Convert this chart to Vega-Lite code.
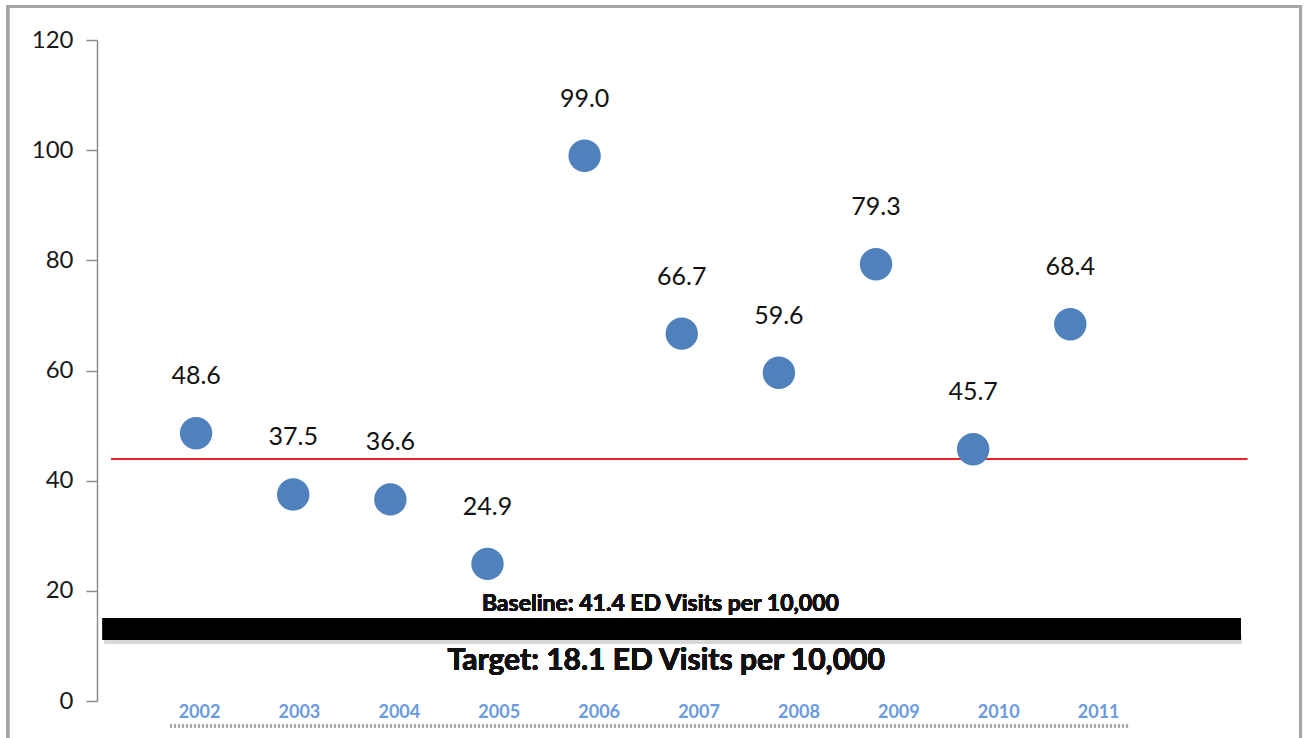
{
  "$schema": "https://vega.github.io/schema/vega-lite/v6.json",
  "width": 1153,
  "height": 661,
  "autosize": {"type": "none"},
  "padding": {"left": 97, "top": 40, "right": 54, "bottom": 37},
  "background": "white",
  "config": {"view": {"stroke": null}, "font": "Lato"},
  "data": {
    "values": [
      {"year": 2002, "visits": 48.6},
      {"year": 2003, "visits": 37.5},
      {"year": 2004, "visits": 36.6},
      {"year": 2005, "visits": 24.9},
      {"year": 2006, "visits": 99.0},
      {"year": 2007, "visits": 66.7},
      {"year": 2008, "visits": 59.6},
      {"year": 2009, "visits": 79.3},
      {"year": 2010, "visits": 45.7},
      {"year": 2011, "visits": 68.4}
    ]
  },
  "layer": [
    {
      "layer": [
        {
          "mark": {"type": "rect", "fill": null, "stroke": "#a6a6a6", "strokeWidth": 3},
          "encoding": {
            "x": {"datum": 2000.06, "type": "quantitative", "scale": {"domain": [2000.98, 2012.85]}, "axis": null},
            "x2": {"datum": 2013.37},
            "y": {"datum": 126.1, "type": "quantitative", "scale": {"domain": [0, 120]}},
            "y2": {"datum": -8}
          }
        },
        {
          "mark": {"type": "rect", "fill": "#d6d6d6"},
          "encoding": {
            "x": {"datum": 2001.06, "type": "quantitative", "scale": {"domain": [2000.98, 2012.85]}, "axis": null},
            "x2": {"datum": 2012.76},
            "y": {"datum": 12, "type": "quantitative", "scale": {"domain": [0, 120]}},
            "y2": {"datum": 10.5}
          }
        },
        {
          "mark": {"type": "rect", "fill": "black"},
          "encoding": {
            "x": {"datum": 2001.04, "type": "quantitative", "scale": {"domain": [2000.98, 2012.85]}, "axis": null},
            "x2": {"datum": 2012.75},
            "y": {"datum": 15.06, "type": "quantitative", "scale": {"domain": [0, 120]}},
            "y2": {"datum": 11.07}
          }
        },
        {
          "mark": {"type": "rule", "color": "#e8262a", "strokeWidth": 1.6},
          "encoding": {
            "x": {"datum": 2001.13, "type": "quantitative", "scale": {"domain": [2000.98, 2012.85]}, "axis": null},
            "x2": {"datum": 2012.82},
            "y": {"datum": 43.9, "type": "quantitative", "scale": {"domain": [0, 120]}}
          }
        },
        {
          "mark": {"type": "circle", "size": 1050, "color": "#4f81bd", "opacity": 1},
          "encoding": {
            "x": {"field": "year", "type": "quantitative", "scale": {"domain": [2000.98, 2012.85]}, "axis": null},
            "y": {
              "field": "visits",
              "type": "quantitative",
              "scale": {"domain": [0, 120]},
              "axis": {
                "values": [0, 20, 40, 60, 80, 100, 120],
                "title": null,
                "grid": false,
                "domainColor": "#8c8c8c",
                "domainWidth": 1.5,
                "tickColor": "#8c8c8c",
                "tickWidth": 1.5,
                "tickSize": 11,
                "labelPadding": 13,
                "labelFontSize": 24,
                "labelColor": "#1a1a1a",
                "labelFont": "Lato"
              }
            }
          }
        },
        {
          "mark": {"type": "text", "dy": -57, "fontSize": 25, "color": "#111111", "font": "Lato"},
          "encoding": {
            "x": {"field": "year", "type": "quantitative", "scale": {"domain": [2000.98, 2012.85]}, "axis": null},
            "y": {"field": "visits", "type": "quantitative", "scale": {"domain": [0, 120]}},
            "text": {"field": "visits", "type": "quantitative", "format": ".1f"}
          }
        },
        {
          "mark": {"type": "text", "fontSize": 23, "fontWeight": "bold", "color": "#111111", "font": "Lato", "text": "Baseline:  41.4 ED Visits  per 10,000"},
          "encoding": {
            "x": {"datum": 2006.78, "type": "quantitative", "scale": {"domain": [2000.98, 2012.85]}, "axis": null},
            "y": {"datum": 17.6, "type": "quantitative", "scale": {"domain": [0, 120]}}
          }
        },
        {
          "mark": {"type": "text", "fontSize": 30, "fontWeight": "bold", "color": "#111111", "font": "Lato", "text": "Target: 18.1 ED Visits per 10,000"},
          "encoding": {
            "x": {"datum": 2006.84, "type": "quantitative", "scale": {"domain": [2000.98, 2012.85]}, "axis": null},
            "y": {"datum": 7.26, "type": "quantitative", "scale": {"domain": [0, 120]}}
          }
        }
      ]
    },
    {
      "mark": {"type": "rule", "color": "#a8a8a8", "strokeWidth": 3, "strokeDash": [2, 2]},
      "encoding": {
        "x": {
          "datum": 2001.71,
          "type": "quantitative",
          "scale": {"domain": [2000.979, 2012.52]},
          "axis": {
            "values": [2002, 2003, 2004, 2005, 2006, 2007, 2008, 2009, 2010, 2011],
            "format": "d",
            "title": null,
            "grid": false,
            "domain": false,
            "ticks": false,
            "labelPadding": 2,
            "labelFontSize": 18,
            "labelFontWeight": "bold",
            "labelColor": "#6a9ae0",
            "labelFont": "Lato"
          }
        },
        "x2": {"datum": 2011.3},
        "y": {"datum": -4.6, "type": "quantitative", "scale": {"domain": [0, 120]}}
      }
    }
  ],
  "resolve": {"scale": {"x": "independent"}}
}
